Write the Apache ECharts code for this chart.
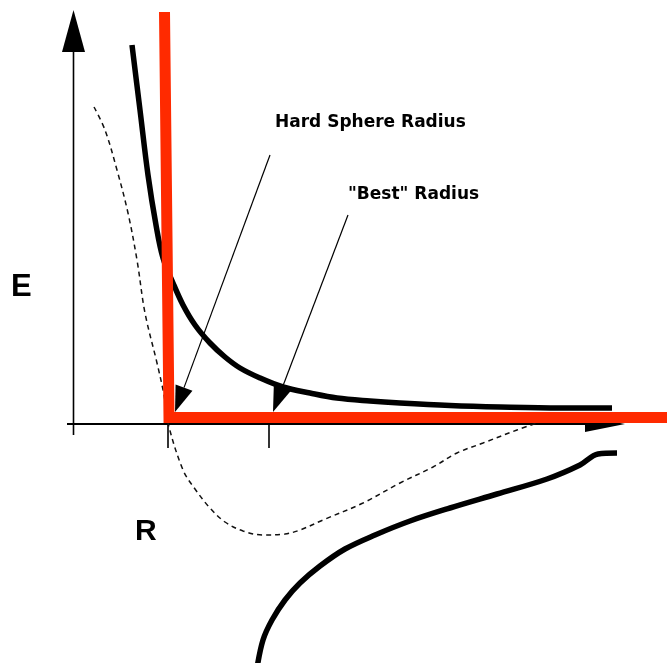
<!DOCTYPE html>
<html>
<head>
<meta charset="utf-8">
<title>Hard Sphere Radius</title>
<script src="https://cdn.jsdelivr.net/npm/echarts@6/dist/echarts.min.js"></script>
<style>
  html, body { margin: 0; padding: 0; background: #fff; }
  #chart { width: 667px; height: 663px; }
</style>
</head>
<body>
<div id="chart"></div>
<script>
// Separation R (horizontal) against energy E (vertical), arbitrary units.
const rRange = [-0.73, 5.94];
const eRange = [-2.39, 4.24];

// Repulsive branch (thick black, upper).
const repulsiveR = [0.59, 0.67, 0.75, 0.83, 0.90, 1.00, 1.10, 1.22, 1.37, 1.52, 1.67, 1.87, 2.10, 2.37, 2.64, 2.97, 3.27, 3.77, 4.27, 4.87, 5.39];
const repulsiveE = [3.79, 3.14, 2.49, 1.99, 1.66, 1.41, 1.19, 0.99, 0.81, 0.67, 0.56, 0.46, 0.37, 0.31, 0.26, 0.23, 0.21, 0.185, 0.17, 0.16, 0.16];

// Attractive branch (thick black, lower).
const attractiveR = [1.84, 1.90, 1.99, 2.12, 2.27, 2.47, 2.72, 3.02, 3.37, 3.77, 4.24, 4.74, 5.07, 5.25, 5.44];
const attractiveE = [-2.44, -2.16, -1.96, -1.76, -1.59, -1.42, -1.25, -1.11, -0.97, -0.84, -0.70, -0.55, -0.41, -0.30, -0.29];

// Total potential well (thin dotted).
const potentialR = [0.21, 0.32, 0.44, 0.55, 0.64, 0.72, 0.84, 0.91, 0.95, 1.10, 1.22, 1.37, 1.52, 1.70, 1.90, 2.12, 2.27, 2.50, 2.90, 3.27, 3.60, 3.84, 4.10, 4.44, 4.67];
const potentialE = [3.17, 2.94, 2.54, 2.11, 1.64, 1.11, 0.61, 0.29, 0.01, -0.46, -0.65, -0.84, -0.98, -1.07, -1.11, -1.10, -1.06, -0.96, -0.79, -0.59, -0.43, -0.29, -0.19, -0.06, 0.02];

// Hard-sphere model (red step).
const hardSphereR = [0.915, 0.96, 5.96];
const hardSphereE = [4.12, 0.065, 0.065];

// Arrows as [R start, E start, R tip, E tip].
const axisArrows = [
  [0.005, -0.11, 0.005, 4.14],   // E axis
  [-0.06, 0.0, 5.52, 0.0]        // R axis
];
const pointerArrows = [
  [1.97, 2.69, 1.02, 0.12],      // to the hard sphere radius
  [2.75, 2.09, 2.00, 0.12]       // to the "best" radius
];

// Tick marks below the R axis at the two radii.
const tickR = [0.95, 1.96];
const tickE = [0.0, -0.24];

const axisTitles = ['E', 'R'];
const annotations = ['Hard Sphere Radius', '"Best" Radius'];

const zip = (xs, ys) => xs.map((x, i) => [x, ys[i]]);

// Straight shaft ending in a filled triangular head at the tip.
function arrowSeries(rows, shaftWidth, headWidths, headLengths) {
  return {
    type: 'custom',
    silent: true,
    clip: false,
    encode: { x: [0, 2], y: [1, 3] },
    data: rows,
    renderItem: function (params, api) {
      const i = params.dataIndex;
      const a = api.coord([api.value(0), api.value(1)]);
      const b = api.coord([api.value(2), api.value(3)]);
      const dx = b[0] - a[0], dy = b[1] - a[1];
      const len = Math.sqrt(dx * dx + dy * dy);
      const ux = dx / len, uy = dy / len;
      const hw = headWidths[i] / 2, hl = headLengths[i];
      const bx = b[0] - ux * hl, by = b[1] - uy * hl;
      return {
        type: 'group',
        children: [
          {
            type: 'line',
            shape: { x1: a[0], y1: a[1], x2: bx, y2: by },
            style: { stroke: '#000', lineWidth: shaftWidth[i] }
          },
          {
            type: 'polygon',
            shape: { points: [[b[0], b[1]], [bx - uy * hw, by + ux * hw], [bx + uy * hw, by - ux * hw]] },
            style: { fill: '#000' }
          }
        ]
      };
    }
  };
}

function tickSeries(r) {
  return {
    type: 'line',
    data: zip([r, r], tickE),
    symbol: 'none',
    silent: true,
    lineStyle: { color: '#000', width: 1.6 }
  };
}

const chart = echarts.init(document.getElementById('chart'), null, { renderer: 'canvas' });

chart.setOption({
  animation: false,
  backgroundColor: '#fff',
  grid: { left: 0, right: 0, top: 0, bottom: 0, containLabel: false },
  xAxis: { type: 'value', min: rRange[0], max: rRange[1], show: false },
  yAxis: { type: 'value', min: eRange[0], max: eRange[1], show: false },
  series: [
    arrowSeries(axisArrows, [1.6, 1.8], [23, 16], [42, 40]),
    tickSeries(tickR[0]),
    tickSeries(tickR[1]),
    {
      type: 'line',
      data: zip(potentialR, potentialE),
      symbol: 'none',
      smooth: 0.35,
      silent: true,
      lineStyle: { color: '#111', width: 1.5, type: [5, 4] }
    },
    {
      type: 'line',
      data: zip(repulsiveR, repulsiveE),
      symbol: 'none',
      smooth: 0.35,
      silent: true,
      lineStyle: { color: '#000', width: 5.5 }
    },
    {
      type: 'line',
      data: zip(attractiveR, attractiveE),
      symbol: 'none',
      smooth: 0.35,
      silent: true,
      lineStyle: { color: '#000', width: 5.5 }
    },
    {
      type: 'line',
      data: zip(hardSphereR, hardSphereE),
      symbol: 'none',
      silent: true,
      lineStyle: { color: '#ff2a00', width: 11, join: 'miter', cap: 'butt' }
    },
    arrowSeries(pointerArrows, [1.2, 1.2], [18, 18], [26, 26])
  ],
  graphic: [
    {
      type: 'text', x: 11, y: 287, silent: true,
      style: { text: axisTitles[0], fontFamily: 'Liberation Sans', fontWeight: 'bold', fontSize: 31, fill: '#000', verticalAlign: 'middle' }
    },
    {
      type: 'text', x: 135, y: 532, silent: true,
      style: { text: axisTitles[1], fontFamily: 'Liberation Sans', fontWeight: 'bold', fontSize: 30, fill: '#000', verticalAlign: 'middle' }
    },
    {
      type: 'text', x: 275, y: 123, silent: true,
      style: { text: annotations[0], fontFamily: 'DejaVu Sans', fontWeight: 'bold', fontSize: 17, fill: '#000', verticalAlign: 'middle' }
    },
    {
      type: 'text', x: 348, y: 195, silent: true,
      style: { text: annotations[1], fontFamily: 'DejaVu Sans', fontWeight: 'bold', fontSize: 17, fill: '#000', verticalAlign: 'middle' }
    }
  ]
});
</script>
</body>
</html>
